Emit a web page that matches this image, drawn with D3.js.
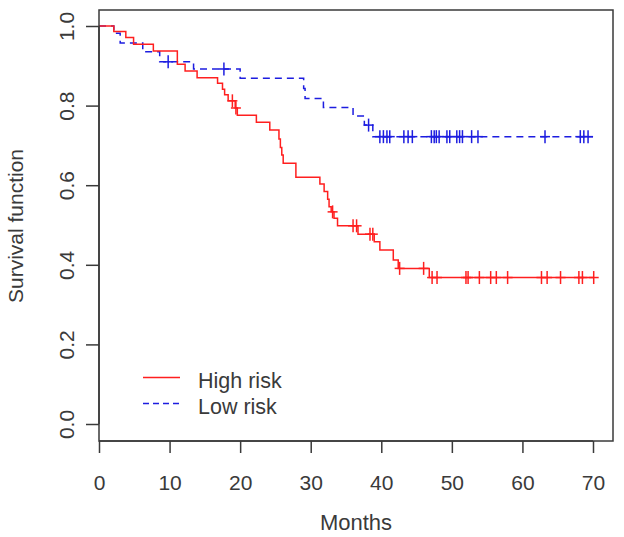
<!DOCTYPE html>
<html><head><meta charset="utf-8">
<script src="https://cdn.jsdelivr.net/npm/d3@7"></script>
<style>body{margin:0;background:#fff}svg{display:block}text{font-family:"Liberation Sans",Arial,sans-serif;fill:#3a3a3a}</style>
</head><body>
<script>
// ---- data ----
const xTicks = [0,10,20,30,40,50,60,70];
const yTicks = [0,0.2,0.4,0.6,0.8,1.0];
const seriesNames = ["High risk","Low risk"];

// High risk: event times and survival after each event
const highTimes = [0,2.1,3.8,4.9,7.7,11.1,12.2,13.9,16.8,17.5,17.8,18.3,19.3,19.6,22.3,24.2,25.5,25.7,25.9,26.1,27.9,31.3,31.9,32.4,32.6,32.9,33.3,33.8,36.7,39.0,39.8,41.7,42.4,46.8];
const highSurv  = [1,0.986,0.971,0.954,0.937,0.904,0.887,0.870,0.856,0.841,0.827,0.812,0.794,0.776,0.758,0.739,0.716,0.695,0.676,0.655,0.620,0.603,0.584,0.565,0.546,0.533,0.517,0.498,0.477,0.458,0.437,0.412,0.391,0.368];
const highCensor = [18.9,19.4,33.1,36.0,36.5,38.4,38.8,42.6,46.0,47.2,47.9,52.0,52.3,53.9,55.5,56.3,57.9,62.7,63.5,65.4,68.0,68.5,70.1];
const highEnd = 70.1;

// Low risk
const lowTimes = [0,2.1,3.0,6.2,8.6,13.4,20.0,29.0,29.2,31.8,36.0,37.6,38.8];
const lowSurv  = [1,0.982,0.957,0.935,0.910,0.892,0.869,0.843,0.818,0.795,0.774,0.751,0.722];
const lowCensor = [9.8,17.7,38.2,39.8,40.3,40.8,41.2,43.2,43.8,44.4,47.1,47.5,47.8,48.2,49.3,49.7,50.7,51.1,51.5,52.8,53.7,63.2,68.2,68.7,69.3];
const lowEnd = 70.0;

// ---- drawing ----
const W = 624, H = 537;
const svg = d3.select("body").append("svg").attr("width", W).attr("height", H);
const x = d3.scaleLinear().domain([0,70]).range([99,593]);
const y = d3.scaleLinear().domain([0,1]).range([424,26]);
const box = {l:99, r:613, t:10, b:441};
const axisCol = "#3a3a3a";

function stepAt(times, surv, t){
  let s = surv[0];
  for (let i=0;i<times.length;i++){ if (times[i] <= t) s = surv[i]; }
  return s;
}
function pts(times, surv, end){
  const p = times.map((t,i)=>[t,surv[i]]);
  p.push([end, surv[surv.length-1]]);
  return p;
}
const line = d3.line().x(d=>x(d[0])).y(d=>y(d[1])).curve(d3.curveStepAfter);

const series = [
  {name:seriesNames[0], times:highTimes, surv:highSurv, cens:highCensor, end:highEnd, color:"#ff1f1f", dash:null},
  {name:seriesNames[1], times:lowTimes, surv:lowSurv, cens:lowCensor, end:lowEnd, color:"#1d1de0", dash:"7,5"}
];

[series[1], series[0]].forEach(s=>{
  svg.append("path").attr("d", line(pts(s.times,s.surv,s.end)))
    .attr("fill","none").attr("stroke",s.color).attr("stroke-width",1.5)
    .attr("stroke-dasharray", s.dash);
  const g = svg.append("g").attr("stroke",s.color).attr("stroke-width",1.5);
  s.cens.forEach(t=>{
    const cx = x(t), cy = y(stepAt(s.times,s.surv,t));
    g.append("line").attr("x1",cx).attr("x2",cx).attr("y1",cy-6.5).attr("y2",cy+6.5);
    g.append("line").attr("x1",cx-5).attr("x2",cx+5).attr("y1",cy).attr("y2",cy);
  });
});

// box
svg.append("rect").attr("x",box.l).attr("y",box.t).attr("width",box.r-box.l).attr("height",box.b-box.t)
  .attr("fill","none").attr("stroke",axisCol).attr("stroke-width",1.5);

// axes
const xa = svg.append("g").attr("transform",`translate(0,${box.b})`)
  .call(d3.axisBottom(x).tickValues(xTicks).tickSize(12).tickPadding(0).tickFormat(d3.format("d")));
xa.select(".domain").attr("stroke",axisCol).attr("stroke-width",1.5).attr("d",`M${x(0)},0H${x(70)}`);
xa.selectAll(".tick line").attr("stroke",axisCol).attr("stroke-width",1.5);
xa.selectAll(".tick text").attr("y",48.5).attr("dy",null).attr("font-size",21).style("fill","#3a3a3a");

const ya = svg.append("g").attr("transform",`translate(${box.l},0)`)
  .call(d3.axisLeft(y).tickValues(yTicks).tickSize(13).tickFormat(d3.format(".1f")));
ya.select(".domain").attr("stroke",axisCol).attr("stroke-width",1.5).attr("d",`M0,${y(0)}V${y(1)}`);
ya.selectAll(".tick line").attr("stroke",axisCol).attr("stroke-width",1.5);
ya.selectAll(".tick text").attr("x",null).attr("dy",null).attr("y",null)
  .attr("transform","translate(-33,0) rotate(-90)").attr("text-anchor","middle")
  .attr("dominant-baseline","central").attr("font-size",21).style("fill","#3a3a3a");

// titles
svg.append("text").attr("x",356).attr("y",530).attr("text-anchor","middle").attr("font-size",22).text("Months");
svg.append("text").attr("transform","translate(23,226) rotate(-90)").attr("text-anchor","middle").attr("font-size",21).text("Survival function");

// legend
series.forEach((s,i)=>{
  const ly = 377.5 + i*26;
  svg.append("line").attr("x1",143).attr("x2",180).attr("y1",ly).attr("y2",ly)
    .attr("stroke",s.color).attr("stroke-width",1.5).attr("stroke-dasharray",s.dash?"6,4":null);
  svg.append("text").attr("x",198).attr("y",ly+10).attr("font-size",21.5).text(s.name);
});
</script>
</body></html>
